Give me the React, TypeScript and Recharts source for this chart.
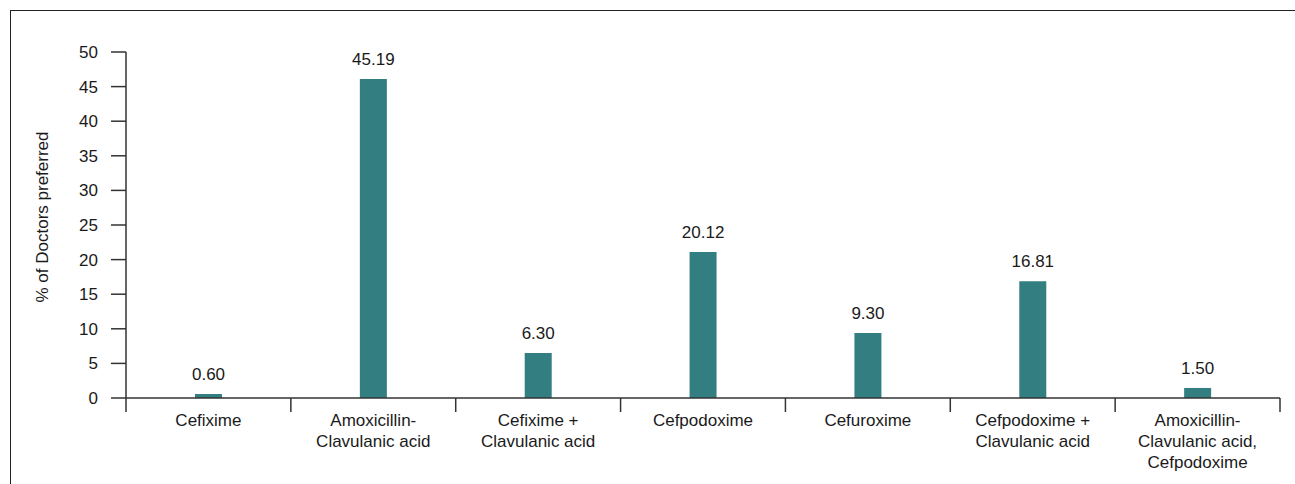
import React from 'react';
import { BarChart, Bar, XAxis, YAxis, LabelList } from 'recharts';

const categories: string[] = [
  'Cefixime',
  'Amoxicillin-\nClavulanic acid',
  'Cefixime +\nClavulanic acid',
  'Cefpodoxime',
  'Cefuroxime',
  'Cefpodoxime +\nClavulanic acid',
  'Amoxicillin-\nClavulanic acid,\nCefpodoxime',
];
// bar heights as drawn in the picture
const barValues: number[] = [0.58, 46.1, 6.5, 21.1, 9.4, 16.86, 1.45];
// value labels printed above bars
const valueLabels: string[] = ['0.60', '45.19', '6.30', '20.12', '9.30', '16.81', '1.50'];
const yTicks: number[] = [0, 5, 10, 15, 20, 25, 30, 35, 40, 45, 50];
const yLabel = '% of Doctors preferred';

const data = categories.map((c, i) => ({ name: c, value: barValues[i], label: valueLabels[i] }));

const W = 1295;
const H = 484;
const MARGIN = { top: 52, right: 15, left: 0, bottom: 0 };
const Y_W = 126;
const X_H = 86;
const FONT = '"Liberation Sans", Arial, sans-serif';
const AXIS = '#333333';
const TEXT = '#1a1a1a';
const BAR = '#337e81';
const BAND = (W - MARGIN.left - MARGIN.right - Y_W) / categories.length;

const XTick = (props: any) => {
  const { x, y, payload, index } = props;
  const lines = String(payload.value).split('\n');
  const left = x - BAND / 2;
  const right = x + BAND / 2;
  return (
    <g>
      <line x1={left} x2={left} y1={y} y2={y + 14} stroke={AXIS} strokeWidth={1.5} />
      {index === categories.length - 1 && (
        <line x1={right} x2={right} y1={y} y2={y + 14} stroke={AXIS} strokeWidth={1.5} />
      )}
      <text x={x} y={y + 28} textAnchor="middle" fontFamily={FONT} fontSize={17} fill={TEXT}>
        {lines.map((l, i) => (
          <tspan key={i} x={x} dy={i === 0 ? 0 : 21}>
            {l}
          </tspan>
        ))}
      </text>
    </g>
  );
};

const YLabel = (props: any) => {
  const { viewBox } = props;
  const cx = viewBox.x + 42;
  const cy = viewBox.y + viewBox.height / 2 - 8;
  return (
    <text
      x={cx}
      y={cy}
      transform={`rotate(-90, ${cx}, ${cy})`}
      textAnchor="middle"
      dominantBaseline="central"
      fontFamily={FONT}
      fontSize={17}
      fill={TEXT}
    >
      {yLabel}
    </text>
  );
};

export default function App() {
  return (
    <div style={{ position: 'absolute', left: 0, top: 0, width: W, height: H, overflow: 'hidden', background: '#fff' }}>
      <div
        style={{
          position: 'absolute',
          left: 10,
          top: 10,
          width: W + 100,
          height: H + 100,
          border: '1.5px solid #222',
          boxSizing: 'border-box',
        }}
      />
      <div style={{ position: 'absolute', left: 0, top: 0 }}>
        <BarChart width={W} height={H} data={data} margin={MARGIN} barSize={27}>
          <XAxis
            dataKey="name"
            interval={0}
            height={X_H}
            tickLine={false}
            tickSize={0}
            tickMargin={0}
            axisLine={{ stroke: AXIS, strokeWidth: 1.5 }}
            tick={<XTick />}
          />
          <YAxis
            width={Y_W}
            domain={[0, 50]}
            ticks={yTicks}
            interval={0}
            tickSize={15}
            tickMargin={13}
            axisLine={{ stroke: AXIS, strokeWidth: 1.5 }}
            tickLine={{ stroke: AXIS, strokeWidth: 1.5 }}
            tick={{ fontFamily: FONT, fontSize: 17, fill: TEXT }}
            label={<YLabel />}
          />
          <Bar dataKey="value" fill={BAR} isAnimationActive={false}>
            <LabelList dataKey="label" position="top" offset={14} fontFamily={FONT} fontSize={17} fill={TEXT} />
          </Bar>
        </BarChart>
      </div>
    </div>
  );
}
